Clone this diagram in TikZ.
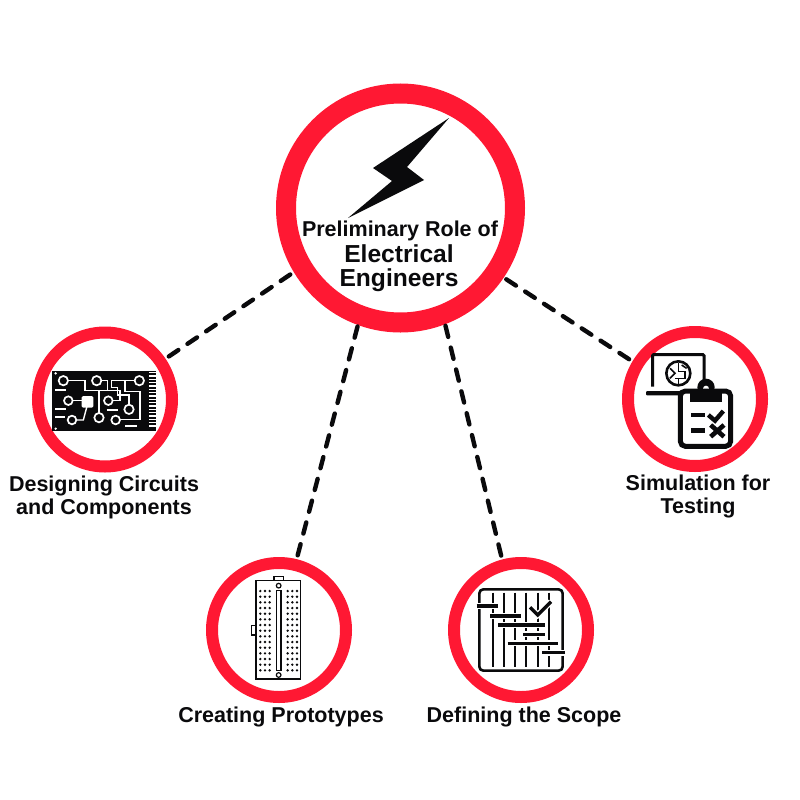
\documentclass[tikz,border=0pt]{standalone}
\usepackage{fontspec}
\setmainfont{Liberation Sans}
\usepackage{xcolor}
\usetikzlibrary{positioning}
\definecolor{ringred}{RGB}{255, 24, 51}
\definecolor{inkblack}{RGB}{10, 10, 12}
\tikzset{
    hub/.style    ={circle, draw=ringred, line width=20pt, fill=white, minimum size=229pt, inner sep=0pt},
    spoke/.style  ={circle, draw=ringred, line width=12pt, fill=white, minimum size=134pt, inner sep=0pt},
    link/.style   ={draw=inkblack, line width=4.4pt, line cap=round, dash pattern=on 11.5pt off 11pt,
                    shorten <=4pt, shorten >=1pt},
    lbl/.style    ={align=center, text=inkblack, font=\fontsize{21.5}{23}\selectfont\bfseries},
    hublbl/.style ={lbl, font=\fontsize{24.6}{24.5}\selectfont\bfseries},
    ink/.style    ={draw=inkblack, line cap=butt, line join=miter},
    trace/.style  ={draw=white, line width=1.4pt},
    pad/.style    ={draw=white, line width=1.7pt, fill=inkblack},
    part/.style   ={draw=white, line width=2pt},
    halo/.style   ={draw=white, line width=6pt}
}

\begin{document}
\begin{tikzpicture}[x=1pt, y=-1pt]
  \useasboundingbox (0,0) rectangle (800,800);
  \fill[white] (0,0) rectangle (800,800);

  % ---- circles
  \node[hub]   (role)  at (400.5,208) {};
  \node[spoke] (pcb)   at (105,399.5) {};
  \node[spoke] (board) at (279,630) {};
  \node[spoke] (scope) at (521,630) {};
  \node[spoke] (sim)   at (695,399) {};

  % ---- dashed links
  \draw[link] (pcb.34) -- (role.211);
  \draw[link] (board.76) -- (role.250);
  \draw[link] (scope.105) -- (role.291);
  \draw[link] (sim.149) -- (role.326);

  % ---- bolt
  \fill[inkblack] (449,118) -- (373,168) -- (392,181) -- (348,218) -- (424,180) -- (407,167) -- cycle;

  % ---- texts
  \node[lbl] (roletop) at (400,231) {Preliminary Role of};
  \node[hublbl] (rolename) at (399,268) {Electrical\\Engineers};
  \node[lbl] (pcblbl)   at (104,497) {Designing Circuits\\and Components};
  \node[lbl] (boardlbl) at (281,716.5) {Creating Prototypes};
  \node[lbl] (scopelbl) at (524,716.5) {Defining the Scope};
  \node[lbl] (simlbl)   at (698,496) {Simulation for\\Testing};

  % ---- circuit board
  \begin{scope}[shift={(30,330)}, scale=1/3]
    \fill[inkblack] (65,122) rectangle (378,302);
    \foreach \y in {128,138,...,288}
      \draw[white, line width=1.1pt] (358,\y) -- (378,\y);
    \fill[white] (77,130) circle (4) (77,296) circle (4);
    \draw[trace] (100,152) -- (165,152) -- (165,182) -- (270,182) -- (270,212) -- (235,212);
    \draw[trace] (200,152) -- (232,152) -- (232,182);
    \draw[trace] (328,152) -- (245,152) -- (245,172) -- (262,172) -- (262,195) -- (297,195) -- (297,238);
    \draw[trace] (285,152) -- (285,185) -- (330,185) -- (330,268) -- (257,268);
    \draw[trace] (115,212) -- (172,212);
    \draw[trace] (207,182) -- (207,263);
    \draw[trace] (126,270) -- (160,270) -- (172,225);
    \draw[part] (75,180) -- (108,180);
    \draw[part] (75,238) -- (108,238);
    \draw[part] (75,260) -- (105,260);
    \draw[part] (230,240) -- (265,240);
    \draw[part] (285,288) -- (320,288);
    \fill[white, rounded corners=1.5pt] (155,198) rectangle (190,233);
    \foreach \x/\y/\r in {100/152/14, 200/152/14, 328/152/14, 115/212/13, 235/212/13, 297/238/14, 126/270/13, 207/263/14, 257/270/13}
      \draw[pad] (\x,\y) circle (\r);
  \end{scope}

  % ---- breadboard
  \begin{scope}[shift={(205,555)}, scale=1/3]
    \draw[ink, line width=1.1pt] (207,77) rectangle (235,64);
    \draw[ink, line width=1.1pt] (153,212) rectangle (139,240);
    \draw[ink, line width=1.1pt] (153,77) rectangle (287,372);
    \draw[ink, line width=1.4pt] (214,106) rectangle (228,346);
    \draw[ink, line width=1.2pt] (221,92) circle (7) (221,360) circle (7);
    \foreach \x in {166,180,194,248,262,276}
      \foreach \y in {108,125,...,346}
        \fill[inkblack] (\x,\y) circle (4);
  \end{scope}

  % ---- scope chart
  \begin{scope}[shift={(445,555)}, scale=1/3]
    \draw[ink, line width=2.6pt, rounded corners=4pt] (103,103) rectangle (353,347);
    \foreach \x in {143,177,211,244,278,312}
      \draw[ink, line width=1.8pt] (\x,113) -- (\x,337);
    \foreach \xa/\xb/\y in {95/158/153, 135/228/183, 160/300/210, 235/300/238, 188/340/265, 292/360/293} {
      \draw[halo] (\xa,\y) -- (\xb,\y);
      \draw[ink, line width=3.2pt] (\xa,\y) -- (\xb,\y);
    }
    \draw[halo] (255,157) -- (278,180) -- (318,140);
    \draw[ink, line width=3.4pt] (255,157) -- (278,180) -- (318,140);
  \end{scope}

  % ---- laptop and clipboard
  \begin{scope}[shift={(620,330)}, scale=1/3]
    \draw[ink, line width=3pt, rounded corners=1pt] (98,170) -- (98,74) -- (252,74) -- (252,165);
    \fill[inkblack, rounded corners=1pt] (78,183) rectangle (190,196);
    \draw[ink, line width=2.6pt] (175,130) circle (36);
    \draw[ink, line width=1.6pt] (175,100) -- (175,125) -- (195,125) -- (195,145) -- (165,145);
    \draw[ink, line width=1.6pt] (150,115) -- (165,130) -- (150,145);
    \draw[ink, line width=1.6pt] (185,105) -- (200,115);
    \draw[ink, line width=1.6pt] (175,145) -- (175,162);
    \fill[inkblack] (258,172) circle (26);
    \fill[white] (258,176) circle (9);
    \draw[ink, line width=5pt, fill=white, rounded corners=5pt] (181,183) rectangle (332,349);
    \fill[inkblack] (210,180) rectangle (305,215);
    \fill[inkblack] (212,248) rectangle (255,262);
    \fill[inkblack] (212,295) rectangle (255,308);
    \draw[ink, line width=4.4pt] (265,255) -- (285,272) -- (310,243);
    \draw[ink, line width=4.6pt] (272,285) -- (312,320) (312,285) -- (272,320);
  \end{scope}
\end{tikzpicture}
\end{document}
